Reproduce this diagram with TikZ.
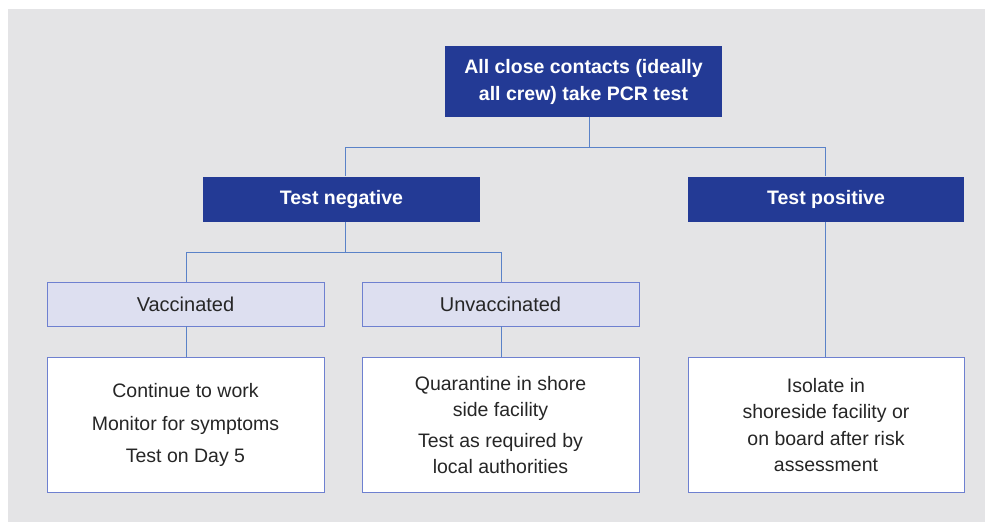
\documentclass[tikz,border=0pt]{standalone}
\usepackage{fontspec}
\setmainfont{Liberation Sans}
\definecolor{panel}{HTML}{E4E4E6}
\definecolor{navy}{HTML}{233A95}
\definecolor{lightbox}{HTML}{DDDFF0}
\definecolor{edge}{HTML}{6E80D0}
\definecolor{conn}{HTML}{5A82C8}
\begin{document}
\begin{tikzpicture}[x=1pt,y=-1pt,
  darkbox/.style={fill=navy,draw=none,text=white,font=\fontsize{19.5}{27}\selectfont\bfseries,align=center,inner sep=0pt},
  catbox/.style={fill=lightbox,draw=edge,line width=0.8pt,text=black!85,font=\fontsize{20}{26}\selectfont,align=center,inner sep=0pt},
  actbox/.style={fill=white,draw=edge,line width=0.8pt,text=black!85,font=\fontsize{19.5}{26.5}\selectfont,align=center,inner sep=0pt},
  link/.style={draw=conn,line width=0.8pt}]
\useasboundingbox (0,0) rectangle (985,522);
\fill[white] (0,0) rectangle (985,522);
\fill[panel] (8,9) rectangle (985,522);
% boxes
\node[darkbox,minimum width=277pt,minimum height=71pt] (top) at (583.5,81.5) {All close contacts (ideally\\all crew) take PCR test};
\node[darkbox,minimum width=277pt,minimum height=45pt] (neg) at (341.5,199) {Test negative};
\node[darkbox,minimum width=276pt,minimum height=45pt] (pos) at (826,199) {Test positive};
\node[catbox,minimum width=277pt,minimum height=44pt] (vac) at (185.5,304) {Vaccinated};
\node[catbox,minimum width=277pt,minimum height=44pt] (unv) at (500.5,304) {Unvaccinated};
\node[actbox,minimum width=277pt,minimum height=135pt] (act1) at (185.5,425) {Continue to work\\[6pt]Monitor for symptoms\\[6pt]Test on Day 5};
\node[actbox,minimum width=277pt,minimum height=135pt] (act2) at (500.5,425) {Quarantine in shore\\side facility\\[4pt]Test as required by\\local authorities};
\node[actbox,minimum width=276pt,minimum height=135pt] (act3) at (826,425) {Isolate in\\shoreside facility or\\on board after risk\\assessment};
% connectors
\coordinate (j1) at (589,147);
\coordinate (j2) at (345,252);
\draw[link] (top.south -| j1) -- (j1);
\draw[link] (345,147) -- (825,147);
\draw[link] (345,147) -- (neg.north -| 345,0);
\draw[link] (825,147) -- (pos.north -| 825,0);
\draw[link] (neg.south -| j2) -- (j2);
\draw[link] (186,252) -- (501,252);
\draw[link] (186,252) -- (vac.north -| 186,0);
\draw[link] (501,252) -- (unv.north -| 501,0);
\draw[link] (vac.south -| 186,0) -- (act1.north -| 186,0);
\draw[link] (unv.south -| 501,0) -- (act2.north -| 501,0);
\draw[link] (pos.south -| 825,0) -- (act3.north -| 825,0);
\end{tikzpicture}
\end{document}
